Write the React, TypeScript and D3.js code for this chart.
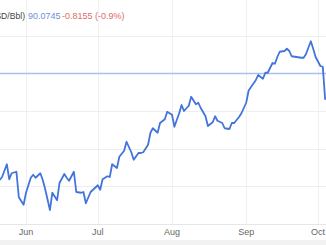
import React from "react";
import * as d3 from "d3";

const dates: string[] = [
  "2023-05-21","2023-05-22","2023-05-24","2023-05-25","2023-05-26","2023-05-28","2023-05-29","2023-05-31",
  "2023-06-01","2023-06-03","2023-06-04","2023-06-05","2023-06-07","2023-06-08","2023-06-09","2023-06-11",
  "2023-06-12","2023-06-14","2023-06-15","2023-06-17","2023-06-18","2023-06-19","2023-06-21","2023-06-22",
  "2023-06-24","2023-06-25","2023-06-26","2023-06-28","2023-06-29","2023-07-01","2023-07-02","2023-07-03",
  "2023-07-05","2023-07-06","2023-07-07","2023-07-09","2023-07-10","2023-07-12","2023-07-13","2023-07-15",
  "2023-07-16","2023-07-18","2023-07-19","2023-07-20","2023-07-22","2023-07-23","2023-07-24","2023-07-26",
  "2023-07-27","2023-07-29","2023-07-30","2023-08-01","2023-08-02","2023-08-04","2023-08-05","2023-08-06",
  "2023-08-08","2023-08-09","2023-08-11","2023-08-12","2023-08-13","2023-08-15","2023-08-16","2023-08-18",
  "2023-08-19","2023-08-20","2023-08-22","2023-08-23","2023-08-25","2023-08-26","2023-08-27","2023-08-29",
  "2023-08-30","2023-09-01","2023-09-02","2023-09-03","2023-09-05","2023-09-06","2023-09-08","2023-09-09",
  "2023-09-10","2023-09-12","2023-09-13","2023-09-14","2023-09-15","2023-09-17","2023-09-18","2023-09-19",
  "2023-09-20","2023-09-22","2023-09-24","2023-09-25","2023-09-26","2023-09-28","2023-09-29","2023-09-30",
  "2023-10-02","2023-10-03","2023-10-04"
];

const prices: number[] = [
  75.8,76.2,77.9,75.9,76.7,76.9,73.5,72.5,
  74.1,76.1,76.5,76.1,76.7,75.8,74.6,71.8,
  74.1,73.1,75.4,76.6,76.1,75.7,76.9,74.2,
  74.1,74.2,72.7,74.2,74.5,75.1,74.5,75.9,
  76.3,76.2,77.9,77.4,78.9,79.7,80.9,79.5,
  78.5,79.4,79.4,79.5,80.5,82.1,82.7,82.1,
  83.4,83.9,84.9,84.5,82.9,84.7,85.8,85.0,
  85.7,86.9,85.9,86.1,85.4,84.3,83.0,83.5,
  84.3,83.7,83.4,82.7,82.6,83.4,83.4,84.2,
  84.7,86.1,87.7,88.2,89.1,89.8,89.3,90.1,
  90.1,91.4,91.3,92.2,92.9,93.0,93.3,93.0,
  92.3,92.2,92.1,92.1,92.6,94.3,93.3,92.2,
  91.0,90.9,86.5
];

const monthTicks: string[] = ["2023-06-01","2023-07-01","2023-08-01","2023-09-01","2023-10-01"];
const monthLabels: string[] = ["Jun","Jul","Aug","Sep","Oct"];
const gridValues: number[] = [95, 90, 85, 80, 75];
const lastValue = 90.0745;
const titleUnit = "(USD/Bbl)";
const titleValue = "90.0745";
const titleChange = "-0.8155 (-0.9%)";

export default function App() {
  const W = 326, H = 245;
  const parse = d3.timeParse("%Y-%m-%d");
  const x = d3.scaleTime()
    .domain([parse("2023-06-01")!, parse("2023-10-01")!])
    .range([26, 318]);
  const y = d3.scaleLinear().domain([70, 95]).range([223.5, 36]);
  const pts = dates.map((d, i) => ({ d: parse(d)!, v: prices[i] }));
  const line = d3.line<{ d: Date; v: number }>()
    .x(p => x(p.d))
    .y(p => y(p.v));
  const font = "'Liberation Sans', Arial, sans-serif";
  return (
    <svg width={W} height={H} style={{ position: "fixed", left: 0, top: 0, display: "block", background: "#fff" }}>
      <rect x={0} y={0} width={W} height={H} fill="#fff" />
      {monthTicks.map(t => (
        <line key={t} x1={Math.round(x(parse(t)!)) + 0.5} x2={Math.round(x(parse(t)!)) + 0.5} y1={0} y2={224}
          stroke="#f0f0f0" strokeWidth={1} />
      ))}
      {gridValues.map(g => (
        <line key={g} x1={0} x2={W} y1={Math.round(y(g)) + 0.5} y2={Math.round(y(g)) + 0.5}
          stroke="#eeeeee" strokeWidth={1} />
      ))}
      <line x1={0} x2={W} y1={224.5} y2={224.5} stroke="#e6e6e6" strokeWidth={1} />
      <rect x={0} y={240} width={W} height={5} fill="#f2f2f2" />
      <line x1={0} x2={W} y1={Math.round(y(lastValue)) + 0.5} y2={Math.round(y(lastValue)) + 0.5}
        stroke="#a9c0ee" strokeWidth={1.3} />
      <path d={line(pts) || ""} fill="none" stroke="#4274dc" strokeWidth={1.8} strokeLinejoin="round" />
      {monthTicks.map((t, i) => (
        <text key={t} x={x(parse(t)!)} y={235} textAnchor="middle" fontSize={9} fontFamily={font} fill="#666">
          {monthLabels[i]}
        </text>
      ))}
      <text x={25} y={19} textAnchor="end" fontSize={8.6} fontFamily={font} fill="#444">{titleUnit}</text>
      <text x={28} y={19} fontSize={9} fontFamily={font} fill="#6f8fd8">{titleValue}</text>
      <text x={62} y={19} fontSize={9} fontFamily={font} fill="#e06a6a">{titleChange}</text>
    </svg>
  );
}
